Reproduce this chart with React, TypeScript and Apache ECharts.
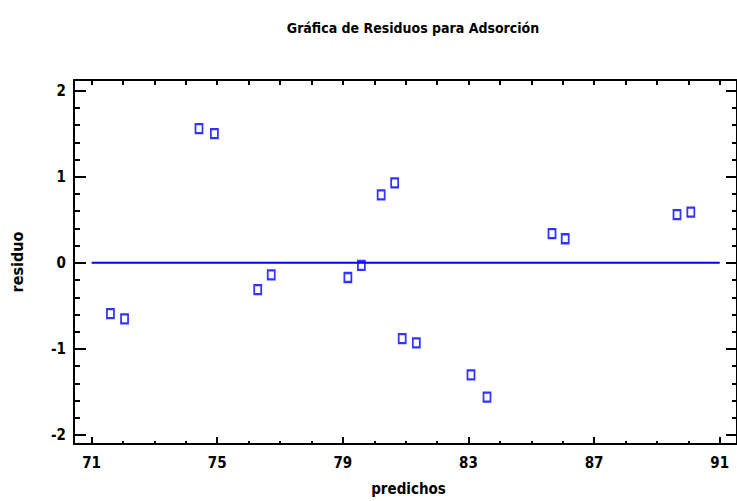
import React, { useEffect, useRef } from "react";
import * as echarts from "echarts";

const titleText = "Gráfica de Residuos para Adsorción";
const xName = "predichos";
const yName = "residuo";

const predichos = [71.6, 72.05, 74.42, 74.91, 76.29, 76.72, 79.16, 79.59, 80.22, 80.65, 80.89, 81.34, 83.08, 83.59, 85.66, 86.08, 89.64, 90.08];
const residuos = [-0.59, -0.65, 1.56, 1.5, -0.31, -0.14, -0.17, -0.03, 0.79, 0.93, -0.88, -0.93, -1.3, -1.56, 0.34, 0.28, 0.56, 0.59];

const xMajorTicks = [71, 75, 79, 83, 87, 91];
const xMinorTicks = [71, 72, 73, 74, 75, 76, 77, 78, 79, 80, 81, 82, 83, 84, 85, 86, 87, 88, 89, 90, 91];
const yMajorTicks = [-2, -1, 0, 1, 2];
const yMinorTicks = [-2, -1.8, -1.6, -1.4, -1.2, -1, -0.8, -0.6, -0.4, -0.2, 0, 0.2, 0.4, 0.6, 0.8, 1, 1.2, 1.4, 1.6, 1.8, 2];
const zeroLine = [[71, 0], [91, 0]];

const X_MIN = 70.44;
const X_MAX = 91.55;
const Y_MIN = -2.104;
const Y_MAX = 2.124;

const FONT = "'DejaVu Sans Condensed', 'Liberation Sans Narrow', 'Arial Narrow', sans-serif";
const BLUE = "#0000ff";

export default function App() {
  const ref = useRef<HTMLDivElement>(null);
  useEffect(() => {
    document.body.style.margin = "0";
    const chart = echarts.init(ref.current!, null, { renderer: "svg" });
    const pts = predichos.map((x, i) => [x, residuos[i]]);
    const lineStyle = { color: "#000", width: 2 };
    const baseX = { type: "value" as const, min: X_MIN, max: X_MAX, splitLine: { show: false } };
    const baseY = { type: "value" as const, min: Y_MIN, max: Y_MAX, splitLine: { show: false } };
    chart.setOption({
      animation: false,
      backgroundColor: "#fff",
      title: {
        text: titleText,
        left: 408,
        top: 16,
        textAlign: "center",
        textStyle: { fontFamily: FONT, fontSize: 14, fontWeight: "bold", color: "#000" },
      },
      grid: { left: 74, top: 80, width: 665, height: 365, containLabel: false },
      xAxis: [
        {
          ...baseX,
          position: "bottom",
          axisLine: { show: true, onZero: false, lineStyle },
          axisTick: { show: true, inside: true, length: 7, customValues: xMajorTicks, lineStyle: { color: "#000", width: 2 } },
          axisLabel: {
            show: true,
            customValues: xMajorTicks,
            margin: 11,
            fontFamily: FONT,
            fontSize: 15,
            fontWeight: "bold",
            color: "#000",
          },
          name: xName,
          nameLocation: "middle",
          nameGap: 37,
          nameTextStyle: { fontFamily: FONT, fontSize: 15, fontWeight: "bold", color: "#000", padding: [0, 0, 0, 6] },
        },
        {
          ...baseX,
          position: "bottom",
          axisLine: { show: false, onZero: false },
          axisTick: { show: true, inside: true, length: 3, customValues: xMinorTicks, lineStyle: { color: "#000", width: 2 } },
          axisLabel: { show: false },
        },
        {
          ...baseX,
          position: "top",
          axisLine: { show: true, onZero: false, lineStyle },
          axisTick: { show: true, inside: true, length: 5, customValues: xMinorTicks, lineStyle: { color: "#000", width: 2 } },
          axisLabel: { show: false },
        },
      ],
      yAxis: [
        {
          ...baseY,
          position: "left",
          axisLine: { show: true, onZero: false, lineStyle },
          axisTick: { show: true, inside: true, length: 12, customValues: yMajorTicks, lineStyle: { color: "#000", width: 2 } },
          axisLabel: {
            show: true,
            customValues: yMajorTicks,
            margin: 8,
            fontFamily: FONT,
            fontSize: 15,
            fontWeight: "bold",
            color: "#000",
          },
          name: yName,
          nameLocation: "middle",
          nameGap: 49,
          nameTextStyle: { fontFamily: FONT, fontSize: 16, fontWeight: "bold", color: "#000" },
        },
        {
          ...baseY,
          position: "left",
          axisLine: { show: false, onZero: false },
          axisTick: { show: true, inside: true, length: 6, customValues: yMinorTicks, lineStyle: { color: "#000", width: 2 } },
          axisLabel: { show: false },
        },
        {
          ...baseY,
          position: "right",
          axisLine: { show: true, onZero: false, lineStyle },
          axisTick: { show: true, inside: true, length: 11, customValues: yMajorTicks, lineStyle: { color: "#000", width: 2 } },
          axisLabel: { show: false },
        },
        {
          ...baseY,
          position: "right",
          axisLine: { show: false, onZero: false },
          axisTick: { show: true, inside: true, length: 5, customValues: yMinorTicks, lineStyle: { color: "#000", width: 2 } },
          axisLabel: { show: false },
        },
      ],
      series: [
        {
          type: "line",
          data: zeroLine,
          xAxisIndex: 0,
          yAxisIndex: 0,
          showSymbol: false,
          symbol: "none",
          lineStyle: { color: BLUE, width: 2 },
          silent: true,
          z: 2,
        },
        {
          type: "scatter",
          data: pts,
          xAxisIndex: 0,
          yAxisIndex: 0,
          symbol: "rect",
          symbolSize: [7, 9],
          itemStyle: { color: "rgba(255,255,255,0)", borderColor: BLUE, borderWidth: 2 },
          z: 3,
        },
      ],
    });
    return () => chart.dispose();
  }, []);
  return <div ref={ref} style={{ width: 737, height: 501 }} />;
}
